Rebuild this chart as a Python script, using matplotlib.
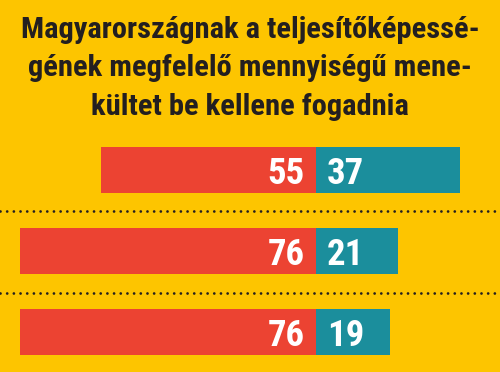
import matplotlib
matplotlib.use("Agg")
import matplotlib.pyplot as plt
from matplotlib import font_manager

# Adatok
title_lines = ["Magyarországnak a teljesítőképessé-",
               "gének megfelelő mennyiségű mene-",
               "kültet be kellene fogadnia"]
agree = [55, 76, 76]      # piros
disagree = [37, 21, 19]   # kék

BG = "#FDC500"
RED = "#EC4332"
TEAL = "#1B8E9C"
INK = "#231F20"

# keskeny, félkövér betű, ha van
family = "DejaVu Sans"
for cand in ["Liberation Sans Narrow", "Roboto Condensed", "DejaVu Sans Condensed"]:
    try:
        font_manager.findfont(font_manager.FontProperties(family=cand, weight="bold"),
                              fallback_to_default=False)
        family = cand
        break
    except Exception:
        pass

plt.rcParams["lines.scale_dashes"] = False

W, H = 500, 372
fig = plt.figure(figsize=(W / 100, H / 100), dpi=100, facecolor=BG)
ax = fig.add_axes([0, 0, 1, 1], facecolor=BG)

# skála: 3.9 px / egység, középvonal x=316 px
px_per = 3.9
ax.set_xlim(-316 / px_per, (W - 316) / px_per)
row_px = 81.0
ax.set_ylim((H - 170) / row_px, -170 / row_px)
ax.axis("off")

ypos = list(range(len(agree)))
bh = 46.5 / row_px
ax.barh(ypos, [-a for a in agree], height=bh, color=RED, linewidth=0)
ax.barh(ypos, disagree, height=bh, color=TEAL, linewidth=0)

off = 11 / px_per
base = 14.3 / row_px
for y, a, d in zip(ypos, agree, disagree):
    ax.text(-off, y + base, str(a), ha="right", va="baseline", color="white",
            fontsize=26.5, fontweight="bold", family=family)
    ax.text(off, y + base, str(d), ha="left", va="baseline", color="white",
            fontsize=26.5, fontweight="bold", family=family)

for y in [0.5, 1.52]:
    ax.axhline(y, color=INK, linewidth=2.0, linestyle=(0, (0.01, 4.8)),
               dash_capstyle="round")

# cím
baselines = [37.5, 76, 115]
texts = []
for line, b in zip(title_lines, baselines):
    t = fig.text(0.5, 1 - b / H, line, ha="center", va="baseline", color=INK,
                 fontsize=16, fontweight="bold", family=family)
    texts.append(t)

# első sor szélessége kb. a referenciáé legyen
fig.canvas.draw()
w = texts[0].get_window_extent().width
scale = 458 / w
for t in texts:
    t.set_fontsize(16 * scale)

fig.savefig("out.png", dpi=100, facecolor=BG)
